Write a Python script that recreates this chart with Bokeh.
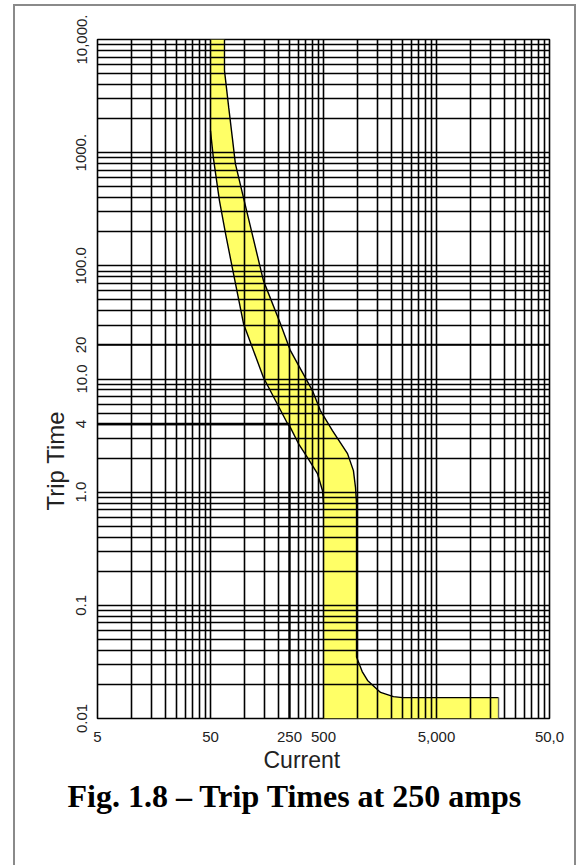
from bokeh.plotting import figure
from bokeh.models import Range1d, FixedTicker, Title
from bokeh.embed import file_html
from bokeh.resources import INLINE

# ---------------- data ----------------
x_ticks = [5, 50, 250, 500, 5000, 50000]
x_tick_labels = ["5", "50", "250", "500", "5,000", "50,0"]
y_ticks = [0.01, 0.1, 1, 4, 10, 20, 100, 1000, 10000]
y_tick_labels = ["0.01", "0.1", "1.0", "4", "10.0", "20", "100.0", "1000.", "10,000."]

# log-paper grid: multiples within each decade
x_grid_base = [5, 50, 500, 5000]
y_grid_base = [0.01, 0.1, 1, 10, 100, 1000]
grid_multiples = [1, 2, 3, 4, 5, 6, 7, 8, 9]

# trip band: minimum (left) and maximum (right) curves
min_current = [50, 50, 53, 60, 68, 78, 98, 147, 240, 255, 300, 361, 442, 490, 500, 500]
min_time = [10000, 1560, 900, 377, 192, 96, 30.8, 10.3, 4.04, 3.72, 2.69, 2.02, 1.46, 1.03, 0.8, 0.01]

max_current = [66.5, 66.5, 72.5, 78, 83, 96, 147, 208, 255, 399, 469, 600, 816, 920, 960, 980,
               980, 1100, 1227, 1600, 2080, 2500, 17700, 17700]
max_time = [10000, 5300, 2500, 1360, 800, 434, 74, 30.8, 17.8, 7.9, 5.26, 3.5, 2.19, 1.55, 1.1, 0.8,
            0.035, 0.026, 0.0217, 0.017, 0.0156, 0.0153, 0.0153, 0.01]

# marked operating point: 250 A trips at 4 s
mark_current = 250
mark_time = 4
mark_time2 = 20

x_lo, x_hi = 5, 50000
y_lo, y_hi = 0.01, 10000

# ---------------- figure ----------------
W, H = 576, 865
FL, FR, FT, FB = 97, 27, 39, 147
p = figure(width=W, height=H, x_axis_type="log", y_axis_type="log",
           x_range=Range1d(x_lo, x_hi), y_range=Range1d(y_lo, y_hi),
           output_backend="svg", toolbar_location=None,
           min_border_left=FL, min_border_right=FR, min_border_top=FT, min_border_bottom=FB)
p.background_fill_color = "white"
p.border_fill_color = None
p.outline_line_color = "black"
p.outline_line_width = 1.6
# thin grey page frame around the figure (drawn as the page background)
p.styles = {
    "background": ("linear-gradient(#8a8a8a,#8a8a8a) 13px 4px / 2px 880px no-repeat, "
                   "linear-gradient(#8a8a8a,#8a8a8a) 13px 4px / 563px 2px no-repeat, "
                   "linear-gradient(#8a8a8a,#8a8a8a) 574px 4px / 2px 880px no-repeat, white"),
}

xg = [b * m for b in x_grid_base for m in grid_multiples] + [x_hi]
yg = [b * m for b in y_grid_base for m in grid_multiples] + [y_hi]
p.xgrid.ticker = FixedTicker(ticks=xg)
p.ygrid.ticker = FixedTicker(ticks=yg)
for g in (p.xgrid, p.ygrid):
    g.grid_line_color = "black"
    g.grid_line_width = 1.6
    g.grid_line_alpha = 1.0
    g.level = "glyph"

# band fill
band_x = min_current + [max_current[-1]] + max_current[::-1]
band_y = min_time + [y_lo] + max_time[::-1]
p.patch(band_x, band_y, fill_color="#FFFF66", line_color=None, level="underlay")

# band outlines
p.line(min_current[1:-1], min_time[1:-1], line_color="black", line_width=1.4)
p.line(max_current[:-1], max_time[:-1], line_color="black", line_width=1.4)
p.line(max_current[-2:], max_time[-2:], line_color="#666666", line_width=1.4)

# marker lines
p.line([x_lo, mark_current], [mark_time, mark_time], line_color="black", line_width=2.6)
p.line([mark_current, mark_current], [y_lo, mark_time], line_color="black", line_width=2.2)
p.line([x_lo, x_hi], [mark_time2, mark_time2], line_color="black", line_width=1.8)

# axes
p.xaxis.ticker = FixedTicker(ticks=x_ticks)
p.xaxis.major_label_overrides = {t: s for t, s in zip(x_ticks, x_tick_labels)}
p.yaxis.ticker = FixedTicker(ticks=y_ticks)
p.yaxis.major_label_overrides = {t: s for t, s in zip(y_ticks, y_tick_labels)}
p.yaxis.major_label_orientation = "vertical"
for ax in (p.xaxis, p.yaxis):
    ax.axis_line_color = None
    ax.major_tick_line_color = None
    ax.minor_tick_line_color = None
    ax.major_label_text_font = "Liberation Sans"
    ax.major_label_text_font_size = "15px"
    ax.major_label_text_color = "#222222"
p.xaxis.major_label_standoff = 7
p.yaxis.major_label_standoff = 5

# axis titles and caption as side-panel titles
p.add_layout(Title(text="Trip Time", align="left", offset=208, standoff=10,
                   text_font="Liberation Sans", text_font_size="24px",
                   text_font_style="normal", text_color="#222222"), "left")
p.add_layout(Title(text="Current", align="left", offset=166, standoff=0,
                   text_font="Liberation Sans", text_font_size="23px",
                   text_font_style="normal", text_color="#222222"), "below")
p.add_layout(Title(text="Fig. 1.8 \u2013 Trip Times at 250 amps", align="left", offset=-30, standoff=6,
                   text_font="Liberation Serif", text_font_size="32px",
                   text_font_style="bold", text_color="black"), "below")

open("out.html", "w").write(file_html(p, INLINE))
